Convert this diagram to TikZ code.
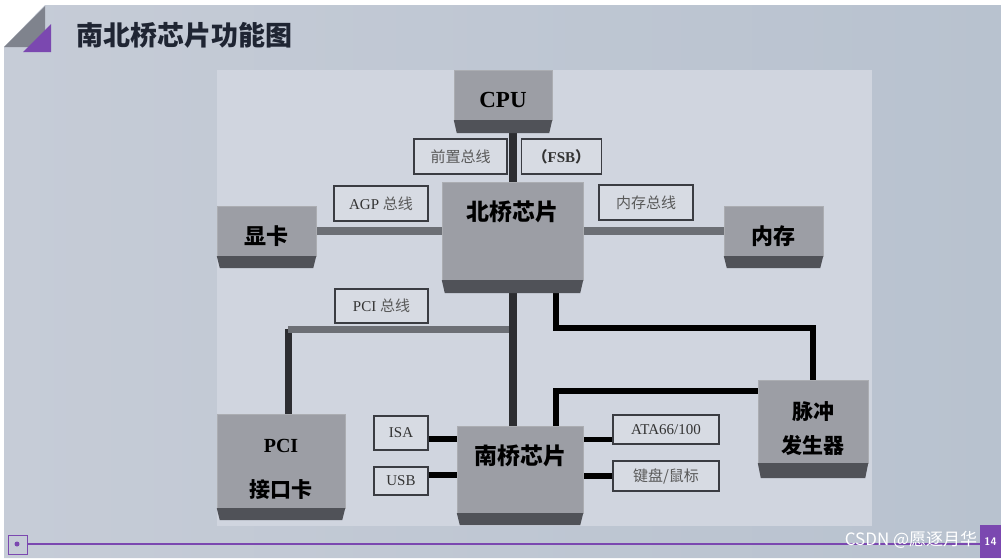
\documentclass[tikz,border=0pt]{standalone}
\usepackage{fontspec}
\setmainfont{Liberation Serif}
\newfontfamily\cjk{Noto Sans CJK SC}
\usetikzlibrary{positioning, calc}

\definecolor{slideleft}{HTML}{C6CCD7}
\definecolor{slideright}{HTML}{B8C2CF}
\definecolor{panelbg}{HTML}{D0D5DF}
\definecolor{chipface}{HTML}{9C9EA5}
\definecolor{chipside}{HTML}{505258}
\definecolor{tagfill}{HTML}{D7DBE3}
\definecolor{tagedge}{HTML}{3A3C42}
\definecolor{busgray}{HTML}{6C6F75}
\definecolor{busdark}{HTML}{2C2D31}
\definecolor{slidepurple}{HTML}{7B48B0}
\definecolor{foldgray}{HTML}{7F838D}
\definecolor{titleblue}{HTML}{1F2533}

\pgfdeclarelayer{bg}
\pgfdeclarelayer{wires}
\pgfsetlayers{bg,wires,main}

\begin{document}
\begin{tikzpicture}[
    x=1pt, y=-1pt,
    chip/.style={draw=chipface!85!white, fill=chipface, inner sep=0pt, align=center},
    cjkchip/.style={chip, font=\cjk\bfseries\fontsize{23}{26}\selectfont},
    tag/.style={draw=tagedge, line width=1.4pt, fill=tagfill, inner sep=0pt, font=\fontsize{15}{18}\selectfont, text=black!80},
    cjktag/.style={tag, font=\cjk\fontsize{15}{18}\selectfont, text=black!65},
    darkbus/.style={line width=8pt, busdark},
    graybus/.style={line width=8pt, busgray},
    ctrl/.style={line width=6.5pt, black},
    port/.style={line width=5.5pt, black}
]
    \useasboundingbox (0,0) rectangle (1001,558);

    % Slide
    \begin{pgfonlayer}{bg}
        \fill[white] (0,0) rectangle (1001,558);
        \shade[left color=slideleft, right color=slideright] (4,47) -- (45,5) -- (1001,5) -- (1001,558) -- (4,558) -- cycle;
        \fill[panelbg] (217,70) rectangle (872,526);
        \fill[foldgray] (4,47) -- (45,6) -- (45,47) -- cycle;
        \fill[slidepurple] (23,52) -- (51,24) -- (51,52) -- cycle;
        \draw[slidepurple, line width=1.2pt] (27,544) -- (980,544);
        \draw[slidepurple, line width=0.8pt] (8,535) rectangle (27,554);
        \fill[slidepurple] (17,544) circle (2.5);
    \end{pgfonlayer}

    \node[font=\cjk\bfseries\fontsize{27}{30}\selectfont, text=titleblue, anchor=west] (title) at (73,35) {南北桥芯片功能图};

    % Chips
    \node[chip, font=\bfseries\fontsize{23}{26}\selectfont, minimum width=98pt, minimum height=50pt, text height=37.6pt, text depth=12.4pt] (cpu) at (503,95) {CPU};
    \node[cjkchip, minimum width=141pt, minimum height=98pt, text height=38.7pt, text depth=59.3pt] (nb) at (512.5,231) {北桥芯片};
    \node[cjkchip, font=\cjk\bfseries\fontsize{22}{26}\selectfont, minimum width=99pt, minimum height=50pt, text height=38.4pt, text depth=11.6pt] (gpu) at (266.5,231) {显卡};
    \node[cjkchip, font=\cjk\bfseries\fontsize{22}{26}\selectfont, minimum width=99pt, minimum height=50pt, text height=38.4pt, text depth=11.6pt] (mem) at (773.5,231) {内存};
    \node[cjkchip, minimum width=126pt, minimum height=87pt, text height=38.7pt, text depth=48.3pt] (sb) at (520,469.5) {南桥芯片};
    \node[chip, font=\cjk\bfseries\fontsize{21}{45}\selectfont, minimum width=128pt, minimum height=94pt, text height=83pt, text depth=11pt] (pcicard) at (281,461) {{\rmfamily\fontsize{20}{45}\selectfont PCI}\\接口卡};
    \node[chip, font=\cjk\bfseries\fontsize{21}{34}\selectfont, minimum width=110pt, minimum height=83pt, text height=73.2pt, text depth=9.8pt] (clk) at (813,421.5) {脉冲\\发生器};

    \foreach \c/\d in {cpu/13, nb/13, gpu/12, mem/12, pcicard/12, sb/12, clk/15}
        \fill[chipside] (\c.south west) -- (\c.south east) -- ([shift={(-3,\d)}]\c.south east) -- ([shift={(3,\d)}]\c.south west) -- cycle;

    % Bus labels
    \node[cjktag, minimum width=93pt, minimum height=35pt] (fsbcn) at (460.5,156.5) {前置总线};
    \node[tag, font=\bfseries\fontsize{15}{18}\selectfont, minimum width=80pt, minimum height=35pt] (fsben) [right=13pt of fsbcn] {{\cjk （}FSB{\cjk ）}};
    \node[tag, minimum width=94pt, minimum height=35pt] (agp) at (381,203.5) {AGP {\cjk\color{black!65} 总线}};
    \node[cjktag, minimum width=94pt, minimum height=35pt] (membus) at (646,202.5) {内存总线};
    \node[tag, minimum width=93pt, minimum height=34pt] (pcibus) at (381.5,306) {PCI {\cjk\color{black!65} 总线}};
    \node[tag, minimum width=54pt, minimum height=34pt] (isa) at (401,433) {ISA};
    \node[tag, minimum width=54pt, minimum height=28pt] (usb) at (401,481) {USB};
    \node[tag, minimum width=106pt, minimum height=29pt] (ata) at (666,429.5) {ATA66/100};
    \node[cjktag, minimum width=106pt, minimum height=30pt] (kbd) at (666,476) {键盘/鼠标};

    % Buses
    \begin{pgfonlayer}{wires}
        \draw[darkbus] (nb.center) -- (nb.center |- cpu.center);
        \draw[graybus] (gpu.center) -- (nb.center);
        \draw[graybus] (nb.center) -- (mem.center);
        \coordinate (pcibend) at (288,329);
        \draw[darkbus, line width=7pt] (pcicard.center -| pcibend) -- (pcibend);
        \draw[graybus, line width=7pt] (pcibend) -- (pcibend -| nb.center);
        \draw[darkbus] (nb.center) -- (nb.center |- sb.center);
        % clock lines
        \coordinate (clkbend) at (556,328);
        \draw[ctrl] (nb.center -| clkbend) -- (clkbend) -| (clk.center);
        \coordinate (sbbend) at (556,391);
        \draw[ctrl] (sb.center -| sbbend) -- (sbbend) -- (sbbend -| clk.center);
        % ports
        \draw[port] ([yshift=-6pt]isa.east) -- ([yshift=-6pt]isa.east -| sb.center);
        \draw[port] ([yshift=6pt]usb.east) -- ([yshift=6pt]usb.east -| sb.center);
        \draw[port] ([yshift=-10pt]ata.west) -- ([yshift=-10pt]ata.west -| sb.center);
        \draw[port] (kbd.west) -- (kbd.west -| sb.center);
    \end{pgfonlayer}

    % Footer
    \node[fill=slidepurple, text=white, font=\bfseries\sffamily\fontsize{11}{12}\selectfont, minimum width=21pt, minimum height=33pt, inner sep=0pt] (pageno) at (990.5,541.5) {14};
    \node[text=white, font=\cjk\fontsize{17}{20}\selectfont] (mark) at (911,540) {CSDN @愿逐月华};
\end{tikzpicture}
\end{document}
